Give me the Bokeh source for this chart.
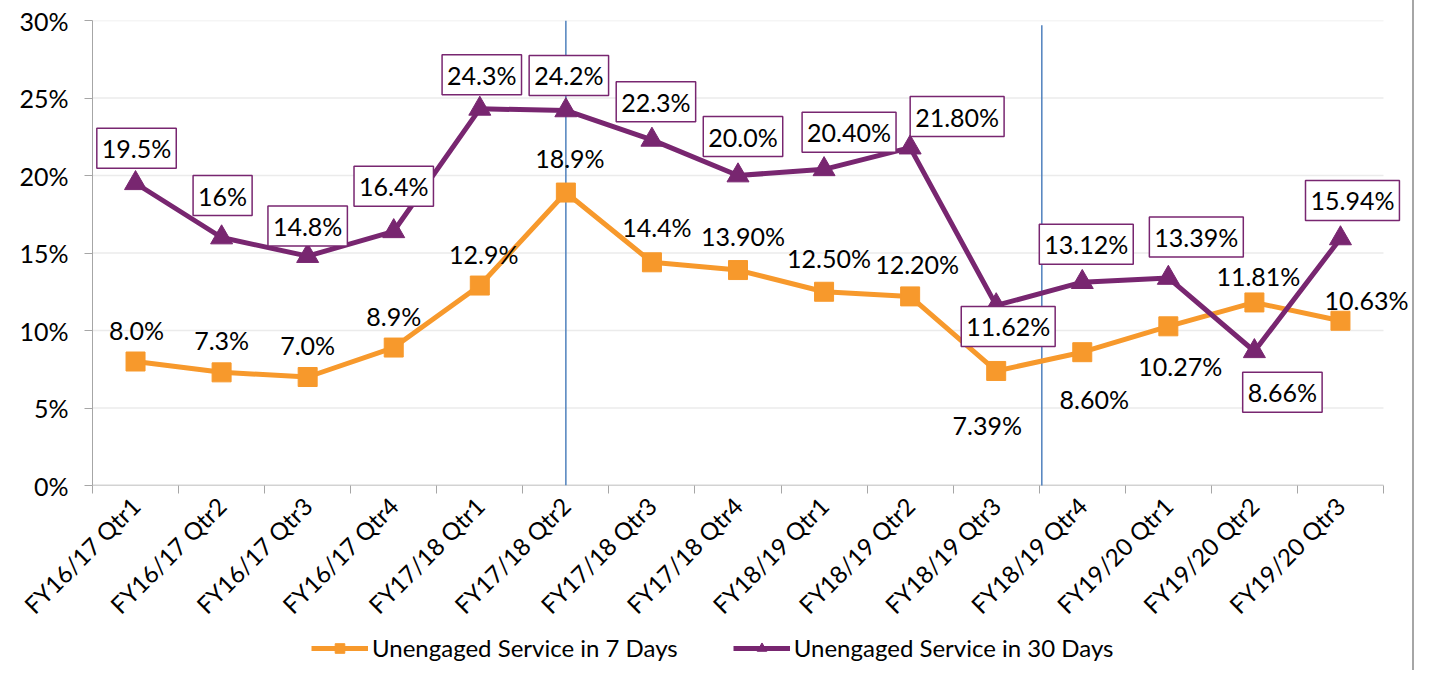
import math
from bokeh.plotting import figure
from bokeh.layouts import column
from bokeh.models import (ColumnDataSource, FixedTicker, Range1d, Legend,
                          LegendItem, PrintfTickFormatter, CustomJSTickFormatter)
from bokeh.core.properties import value
from bokeh.embed import file_html
from bokeh.resources import INLINE

categories = ["FY16/17 Qtr1", "FY16/17 Qtr2", "FY16/17 Qtr3", "FY16/17 Qtr4",
              "FY17/18 Qtr1", "FY17/18 Qtr2", "FY17/18 Qtr3", "FY17/18 Qtr4",
              "FY18/19 Qtr1", "FY18/19 Qtr2", "FY18/19 Qtr3", "FY18/19 Qtr4",
              "FY19/20 Qtr1", "FY19/20 Qtr2", "FY19/20 Qtr3"]
seven_days = [8.0, 7.3, 7.0, 8.9, 12.9, 18.9, 14.4, 13.9, 12.5, 12.2, 7.39, 8.60, 10.27, 11.81, 10.63]
thirty_days = [19.5, 16.0, 14.8, 16.4, 24.3, 24.2, 22.3, 20.0, 20.4, 21.8, 11.62, 13.12, 13.39, 8.66, 15.94]
seven_labels = ["8.0%", "7.3%", "7.0%", "8.9%", "12.9%", "18.9%", "14.4%", "13.90%", "12.50%",
                "12.20%", "7.39%", "8.60%", "10.27%", "11.81%", "10.63%"]
thirty_labels = ["19.5%", "16%", "14.8%", "16.4%", "24.3%", "24.2%", "22.3%", "20.0%", "20.40%",
                 "21.80%", "11.62%", "13.12%", "13.39%", "8.66%", "15.94%"]
y_ticks = [0, 5, 10, 15, 20, 25, 30]
series_names = ["Unengaged Service in 7 Days", "Unengaged Service in 30 Days"]

# label placement (screen px, up positive)
seven_dx = [1, 0, 0, 0, 4, 4, 5, 5, 5, 7, -9, 12, 12, 4, 26]
seven_dy = [32, 32, 32, 32, 32, 35, 35, 34, 34, 32, -54, -47, -40, 26, 21]
thirty_dx = [1, 1, 0, 0, 2, 3, 4, 5, 25, 47, 12, 4, 28, 28, 12]
thirty_dy = [35, 42, 30, 45, 34, 35, 38, 39, 37, 31, -21, 38, 41, -41, 38]

ORANGE = "#F7992C"
PURPLE = "#782670"
GRAY = "#A6A6A6"
FONT = "Lato"

n = len(categories)
xs = [i + 0.5 for i in range(n)]
src7 = ColumnDataSource(dict(x=xs, y=seven_days, t=seven_labels, dx=seven_dx,
                             dy=[-d for d in seven_dy]))
src30 = ColumnDataSource(dict(x=xs, y=thirty_days, t=thirty_labels, dx=thirty_dx,
                              dy=[-d for d in thirty_dy]))

# frame reaches past the last category so the right-hand labels are not clipped
x_end = n * 1318 / 1291
p = figure(width=1412, height=632, output_backend="svg", toolbar_location=None,
           x_range=Range1d(0, x_end), y_range=Range1d(0, 30),
           min_border_left=92, min_border_right=2, min_border_top=20, min_border_bottom=145)
p.outline_line_color = None
p.background_fill_color = "white"
p.border_fill_color = "white"
p.styles = {"box-shadow": "2px 0 0 #A6A6A6"}

# grid (drawn only across the categories)
p.xgrid.grid_line_color = None
p.ygrid.grid_line_color = None
grid_y = [t for t in y_ticks if t > 0]
p.segment(x0=[0] * len(grid_y), y0=grid_y, x1=[n] * len(grid_y), y1=grid_y,
          line_color="#EBEBEB", line_width=1.5)
p.segment(x0=[0], y0=[0], x1=[n], y1=[0], line_color=GRAY, line_width=1.5)

# y axis
p.yaxis.ticker = FixedTicker(ticks=y_ticks, minor_ticks=[])
p.yaxis.formatter = PrintfTickFormatter(format="%d%%")
p.yaxis.axis_line_color = GRAY
p.yaxis.major_tick_line_color = GRAY
p.yaxis.major_tick_out = 8
p.yaxis.major_tick_in = 0
p.yaxis.minor_tick_line_color = None
p.yaxis.major_label_text_font = FONT
p.yaxis.major_label_text_font_size = "25px"
p.yaxis.major_label_text_color = "black"
p.yaxis.major_label_standoff = 16

# x axis (ticks between categories)
p.xaxis.ticker = FixedTicker(ticks=xs, minor_ticks=list(range(n + 1)))
p.xaxis.formatter = CustomJSTickFormatter(args=dict(cats=categories),
                                          code="return cats[Math.floor(tick)];")
p.xaxis.axis_line_color = None
p.xaxis.major_tick_line_color = None
p.xaxis.minor_tick_line_color = GRAY
p.xaxis.minor_tick_out = 8
p.xaxis.minor_tick_in = 0
p.xaxis.major_label_orientation = math.pi / 4
p.xaxis.major_label_text_font = FONT
p.xaxis.major_label_text_font_size = "24px"
p.xaxis.major_label_text_color = "black"
p.xaxis.major_label_standoff = 8

# divider lines
div_x = [categories.index("FY17/18 Qtr2") + 0.5, categories.index("FY18/19 Qtr4") + 0.03]
p.segment(x0=div_x, y0=[0, -0.5], x1=div_x, y1=[30, 29.7], line_color="#4F81BD", line_width=1.5)

# series
p.line("x", "y", source=src7, line_color=ORANGE, line_width=5)
p.scatter("x", "y", source=src7, marker="square", size=19, fill_color=ORANGE, line_color=ORANGE)
p.line("x", "y", source=src30, line_color=PURPLE, line_width=5)
p.scatter("x", "y", source=src30, marker="triangle", size=22, fill_color=PURPLE, line_color=PURPLE)

p.text("x", "y", text="t", source=src7, x_offset="dx", y_offset="dy",
       text_align="center", text_baseline="middle", text_font=value(FONT),
       text_font_size="25px", text_color="black")
p.text("x", "y", text="t", source=src30, x_offset="dx", y_offset="dy",
       text_align="center", text_baseline="middle", text_font=value(FONT),
       text_font_size="25px", text_color="black",
       background_fill_color="white", border_line_color=PURPLE,
       border_line_width=1.5, padding=5)

# legend strip
q = figure(width=1412, height=38, output_backend="svg", toolbar_location=None,
           x_range=Range1d(0, 1), y_range=Range1d(0, 1), x_axis_type=None, y_axis_type=None,
           min_border_left=0, min_border_right=0, min_border_top=0, min_border_bottom=0)
q.outline_line_color = None
q.grid.grid_line_color = None
q.styles = {"box-shadow": "2px 0 0 #A6A6A6"}
off = ColumnDataSource(dict(x=[-5], y=[-5]))
ql7 = q.line("x", "y", source=off, line_color=ORANGE, line_width=5)
qs7 = q.scatter("x", "y", source=off, marker="square", size=19, fill_color=ORANGE, line_color=ORANGE)
ql30 = q.line("x", "y", source=off, line_color=PURPLE, line_width=5)
qs30 = q.scatter("x", "y", source=off, marker="triangle", size=22, fill_color=PURPLE, line_color=PURPLE)
legend = Legend(items=[LegendItem(label=series_names[0], renderers=[ql7, qs7]),
                       LegendItem(label=series_names[1], renderers=[ql30, qs30])],
                orientation="horizontal", location=(219, 8), padding=0, margin=0,
                spacing=55, glyph_width=57, glyph_height=24, label_standoff=4,
                label_text_font=FONT, label_text_font_size="24px", label_text_color="black",
                border_line_color=None, background_fill_alpha=0)
q.add_layout(legend)

open("out.html", "w").write(file_html(column(p, q, spacing=0), INLINE))
